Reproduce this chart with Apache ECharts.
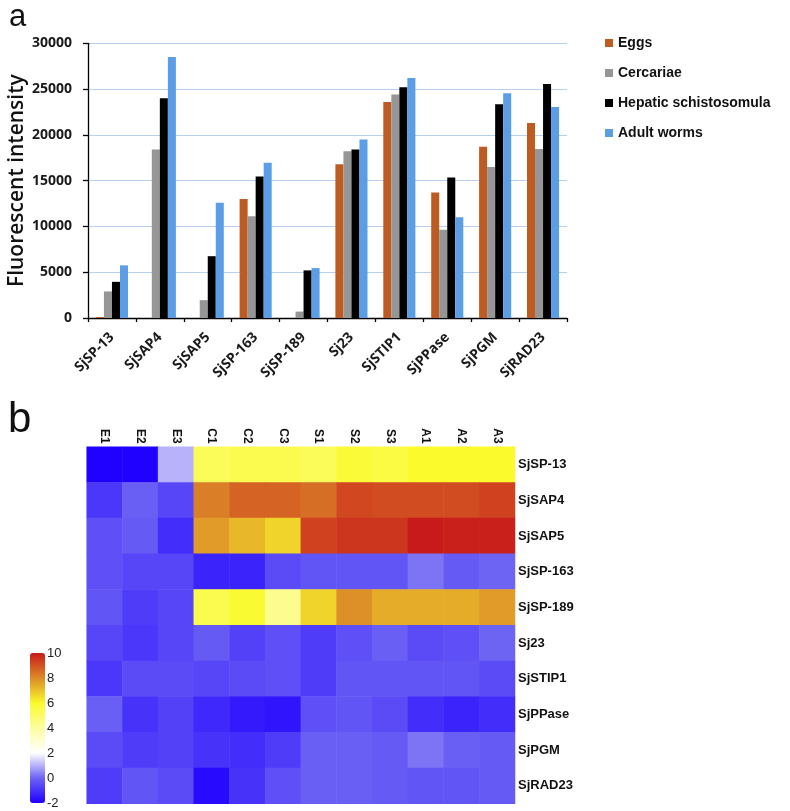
<!DOCTYPE html>
<html><head><meta charset="utf-8">
<script src="https://cdn.jsdelivr.net/npm/echarts@6/dist/echarts.min.js"></script>
<style>html,body{margin:0;padding:0;background:#fff}#c{width:790px;height:811px}</style>
</head><body><div id="c"></div>
<script>
const categories = ['SjSP-13','SjSAP4','SjSAP5','SjSP-163','SjSP-189','Sj23','SjSTIP1','SjPPase','SjPGM','SjRAD23'];
const seriesNames = ['Eggs','Cercariae','Hepatic schistosomula','Adult worms'];
const eggs      = [100, 0, 0, 13000, 0, 16800, 23600, 13700, 18700, 21300];
const cercariae = [2900, 18400, 1950, 11100, 700, 18200, 24400, 9650, 16500, 18450];
const hepatic   = [3950, 24000, 6750, 15450, 5200, 18400, 25200, 15350, 23350, 25550];
const adult     = [5750, 28500, 12600, 16950, 5450, 19500, 26200, 11000, 24550, 23050];
const yTicks = [0, 5000, 10000, 15000, 20000, 25000, 30000];

const samples = ['E1','E2','E3','C1','C2','C3','S1','S2','S3','A1','A2','A3'];
const genes = ['SjSP-13','SjSAP4','SjSAP5','SjSP-163','SjSP-189','Sj23','SjSTIP1','SjPPase','SjPGM','SjRAD23'];
const heat_SjSP13   = [-2.0,-2.0, 1.0, 5.2, 5.4, 5.4, 5.2, 5.8, 5.6, 6.0, 6.0, 6.0];
const heat_SjSAP4   = [-0.9,-0.1,-0.6, 8.2, 8.7, 8.7, 8.5, 9.2, 9.1, 9.1, 9.1, 9.3];
const heat_SjSAP5   = [-0.4,-0.2,-1.1, 7.7, 7.2, 6.7, 9.3, 9.5, 9.5,10.0, 9.9, 9.9];
const heat_SjSP163  = [-0.4,-0.6,-0.6,-1.3,-1.3,-0.5,-0.3,-0.3,-0.3, 0.2,-0.2, 0.0];
const heat_SjSP189  = [-0.3,-0.8,-0.6, 5.4, 5.9, 4.3, 6.7, 7.9, 7.4, 7.4, 7.4, 7.7];
const heat_Sj23     = [-0.6,-0.9,-0.6,-0.2,-0.7,-0.4,-0.8,-0.4,-0.1,-0.5,-0.4, 0.0];
const heat_SjSTIP1  = [-0.9,-0.5,-0.5,-0.6,-0.5,-0.4,-0.8,-0.3,-0.3,-0.3,-0.3,-0.5];
const heat_SjPPase  = [-0.1,-1.0,-0.7,-1.2,-1.5,-1.6,-0.4,-0.3,-0.5,-1.1,-1.3,-1.1];
const heat_SjPGM    = [-0.5,-0.8,-0.7,-1.0,-1.1,-0.8,-0.1,-0.1,-0.2, 0.2,-0.1,-0.2];
const heat_SjRAD23  = [-0.8,-0.3,-0.5,-1.8,-1.0,-0.4,-0.1,-0.1,-0.2,-0.3,-0.3,-0.2];
const heatRows = [heat_SjSP13, heat_SjSAP4, heat_SjSAP5, heat_SjSP163, heat_SjSP189, heat_Sj23, heat_SjSTIP1, heat_SjPPase, heat_SjPGM, heat_SjRAD23];
const scaleTicks = [-2, 0, 2, 4, 6, 8, 10];

const heatData = [];
heatRows.forEach((row, gi) => row.forEach((v, si) => heatData.push([si, gi, v])));

const barColors = ['#bd5b20', '#969696', '#000000', '#5b9ee6'];
const barValues = [eggs, cercariae, hepatic, adult];

const chart = echarts.init(document.getElementById('c'), null, {renderer: 'canvas'});
const boldFont = {fontFamily: 'Open Sans', fontWeight: 'bold', color: '#1a1a1a'};
const gridBase = {containLabel: false, outerBoundsMode: 'none'};

chart.setOption({
  animation: false,
  title: [
    {text: 'a', left: 4, top: -3, textStyle: {fontFamily: 'Liberation Sans', fontSize: 31, fontWeight: 'normal', color: '#111'}},
    {text: 'b', left: 3, top: 394, textStyle: {fontFamily: 'Liberation Sans', fontSize: 42, fontWeight: 'normal', color: '#111'}}
  ],
  legend: {
    data: seriesNames, orient: 'vertical', left: 600, top: 31,
    itemWidth: 8, itemHeight: 8, itemGap: 16, icon: 'rect',
    textStyle: {fontFamily: 'Liberation Sans', fontWeight: 'bold', fontSize: 14, color: '#111'}
  },
  grid: [
    Object.assign({left: 88, top: 43.3, width: 479, height: 274.7}, gridBase),
    Object.assign({left: 86.7, top: 446.7, width: 428.3, height: 357}, gridBase),
    Object.assign({left: 30, top: 653, width: 15, height: 150}, gridBase)
  ],
  xAxis: [
    {gridIndex: 0, type: 'category', data: categories,
     axisLine: {lineStyle: {color: '#000', width: 1.3}},
     axisTick: {show: true, length: 4, lineStyle: {color: '#000', width: 1.3}},
     axisLabel: Object.assign({rotate: 45, fontSize: 14, margin: 17, interval: 0}, boldFont)},
    {gridIndex: 1, type: 'category', data: samples, position: 'top',
     axisLine: {show: false}, axisTick: {show: false}, splitLine: {show: false},
     axisLabel: {rotate: 90, fontFamily: 'Liberation Sans', fontWeight: 'bold', fontSize: 12, color: '#111', margin: 3}},
    {gridIndex: 2, type: 'value', show: false, min: 0, max: 1}
  ],
  yAxis: [
    {gridIndex: 0, type: 'value', min: yTicks[0], max: yTicks[yTicks.length-1], interval: 5000,
     name: 'Fluorescent intensity', nameLocation: 'middle', nameGap: 60, nameMoveOverlap: false,
     nameTextStyle: {fontFamily: 'Open Sans', fontWeight: 600, fontSize: 21, color: '#111'},
     axisLine: {show: true, lineStyle: {color: '#000', width: 1.3}},
     axisTick: {show: true, length: 5, lineStyle: {color: '#000', width: 1.3}},
     splitLine: {lineStyle: {color: '#b7cff0', width: 1.2}},
     axisLabel: Object.assign({fontSize: 14, margin: 16, formatter: v => String(v)}, boldFont)},
    {gridIndex: 1, type: 'category', data: genes, inverse: true, position: 'right',
     axisLine: {show: false}, axisTick: {show: false}, splitLine: {show: false},
     axisLabel: {fontFamily: 'Liberation Sans', fontWeight: 'bold', fontSize: 13, color: '#111', margin: 3}},
    {gridIndex: 2, type: 'value', position: 'right', min: scaleTicks[0], max: scaleTicks[scaleTicks.length-1], interval: 2,
     axisLine: {show: false}, axisTick: {show: false}, splitLine: {show: false},
     axisLabel: {fontFamily: 'Liberation Sans', fontSize: 13, color: '#222', margin: 2}}
  ],
  visualMap: {
    type: 'continuous', min: scaleTicks[0], max: scaleTicks[scaleTicks.length-1], seriesIndex: 4,
    left: 30, top: 653, itemWidth: 15, itemHeight: 150, padding: 0,
    calculable: false, showLabel: false, text: ['', ''], hoverLink: false,
    inRange: {color: ['#2000ff', '#6e64f4', '#ffffff', '#fdfda0', '#fafa2c', '#dc8a28', '#c81a1a']}
  },
  series: barValues.map((vals, i) => ({
    name: seriesNames[i], type: 'bar', xAxisIndex: 0, yAxisIndex: 0,
    data: vals, barGap: '0%', barCategoryGap: '33%',
    itemStyle: {color: barColors[i]}
  })).concat([{
    type: 'heatmap', xAxisIndex: 1, yAxisIndex: 1, data: heatData,
    itemStyle: {borderWidth: 0}, emphasis: {disabled: true}
  }])
});
</script></body></html>
